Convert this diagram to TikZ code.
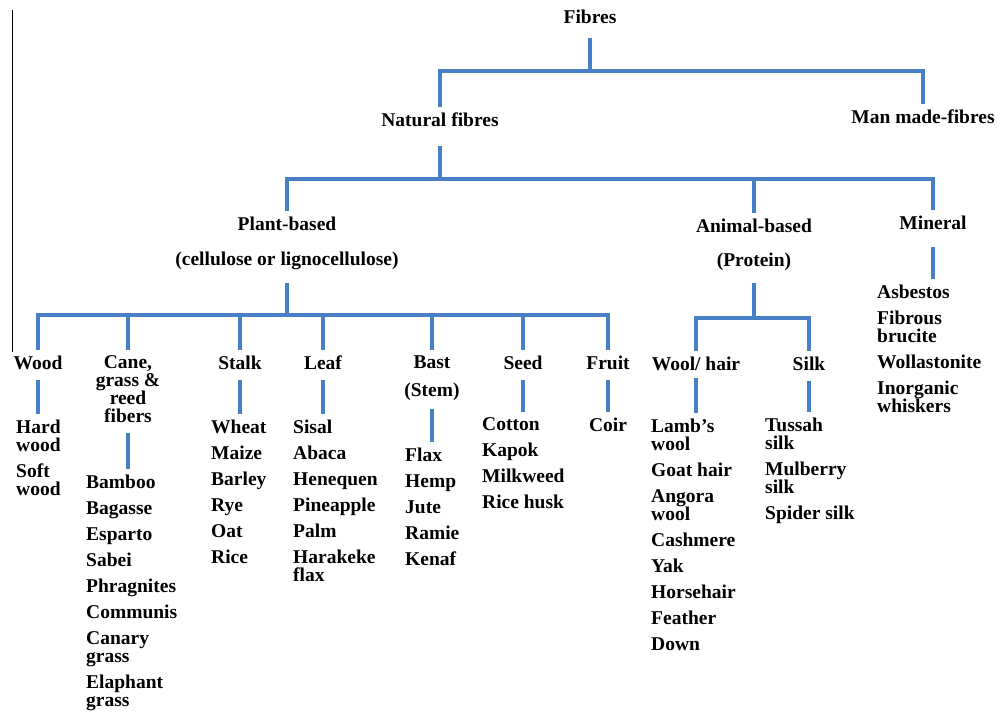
\documentclass[tikz,border=0pt]{standalone}
\usepackage{fontspec}
\setmainfont{Liberation Serif}
\definecolor{lineblue}{RGB}{72,128,200}
\tikzset{
  lbl/.style={font=\fontsize{19.5}{18}\selectfont\bfseries, inner sep=0pt, outer ysep=6pt, anchor=north, align=center},
  lst/.style={lbl, anchor=north west, align=left},
  bar/.style={draw=lineblue, line width=3.2pt},
  feed/.style={bar, shorten <=#1},
  feed/.default=4pt,
}
\begin{document}
\begin{tikzpicture}[x=1pt,y=-1pt]
\useasboundingbox (0,0) rectangle (998,712);
\draw[line width=1pt] (12,10) -- (12,352);
% top levels
\node[lbl] (fibres) at (590,4) {Fibres};
\node[lbl] (natural) at (440,107) {Natural fibres};
\node[lbl] (manmade) at (923,104) {Man made-fibres};
\coordinate (fibbar) at (590,71);
\draw[feed=8pt] (fibres.south) -- (fibbar);
\draw[bar] (natural.north) |- (fibbar) -| (manmade.north);
\node[lbl] (plant) at (287,211) {Plant-based\\[17pt](cellulose or lignocellulose)};
\node[lbl] (animal) at (754,213) {Animal-based\\[16pt](Protein)};
\node[lbl] (mineral) at (933,210) {Mineral};
\coordinate (natbar) at (440,179);
\draw[feed=13pt] (natural.south) -- (natbar);
\draw[bar] (plant.north) |- (natbar) -| (mineral.north);
\draw[bar] (natbar) -| (animal.north);
% plant-based groups
\node[lbl] (wood) at (38,350) {Wood};
\node[lbl] (cane) at (128,350) {Cane,\\grass \&\\reed\\fibers};
\node[lbl] (stalk) at (240,350) {Stalk};
\node[lbl] (leaf) at (323,350) {Leaf};
\node[lbl] (bast) at (432,350) {Bast\\[10pt](Stem)};
\node[lbl] (seed) at (523,350) {Seed};
\node[lbl] (fruit) at (608,350) {Fruit};
\coordinate (plantbar) at (287,315);
\draw[feed=7pt] (plant.south) -- (plantbar);
\draw[bar] (wood.north) |- (plantbar) -| (fruit.north);
\foreach \n in {cane,stalk,leaf,bast,seed}
  \draw[bar] (plantbar -| \n.north) -- (\n.north);
\node[lst] (woodlist) at (16,414) {Hard\\wood\\[8pt]Soft\\wood};
\node[lst] (canelist) at (86,469) {Bamboo\\[8pt]Bagasse\\[8pt]Esparto\\[8pt]Sabei\\[8pt]Phragnites\\[8pt]Communis\\[8pt]Canary\\grass\\[8pt]Elaphant\\grass};
\node[lst] (stalklist) at (211,414) {Wheat\\[8pt]Maize\\[8pt]Barley\\[8pt]Rye\\[8pt]Oat\\[8pt]Rice};
\node[lst] (leaflist) at (293,414) {Sisal\\[8pt]Abaca\\[8pt]Henequen\\[8pt]Pineapple\\[8pt]Palm\\[8pt]Harakeke\\flax};
\node[lst] (bastlist) at (405,442) {Flax\\[8pt]Hemp\\[8pt]Jute\\[8pt]Ramie\\[8pt]Kenaf};
\node[lst] (seedlist) at (482,412) {Cotton\\[8pt]Kapok\\[8pt]Milkweed\\[8pt]Rice husk};
\node[lbl] (coir) at (608,412) {Coir};
\draw[feed] (wood.south) -- (wood.south |- woodlist.north);
\draw[feed] (cane.south) -- (cane.south |- canelist.north);
\draw[feed] (stalk.south) -- (stalk.south |- stalklist.north);
\draw[feed] (leaf.south) -- (leaf.south |- leaflist.north);
\draw[feed=2pt] (bast.south) -- (bast.south |- bastlist.north);
\draw[feed] (seed.south) -- (seed.south |- seedlist.north);
\draw[feed] (fruit.south) -- (fruit.south |- coir.north);
% animal-based groups
\node[lbl] (wool) at (696,351) {Wool/ hair};
\node[lbl] (silk) at (809,351) {Silk};
\coordinate (animbar) at (754,318);
\draw[feed=6pt] (animal.south) -- (animbar);
\draw[bar] (wool.north) |- (animbar) -| (silk.north);
\node[lst] (woollist) at (651,413) {Lamb's\\wool\\[8pt]Goat hair\\[8pt]Angora\\wool\\[8pt]Cashmere\\[8pt]Yak\\[8pt]Horsehair\\[8pt]Feather\\[8pt]Down};
\node[lst] (silklist) at (765,412) {Tussah\\silk\\[8pt]Mulberry\\silk\\[8pt]Spider silk};
\draw[feed=1pt] (wool.south) -- (wool.south |- woollist.north);
\draw[feed] (silk.south) -- (silk.south |- silklist.north);
% mineral
\node[lst] (minlist) at (877,279) {Asbestos\\[8pt]Fibrous\\brucite\\[8pt]Wollastonite\\[8pt]Inorganic\\whiskers};
\draw[feed=11pt] (mineral.south) -- (mineral.south |- minlist.north);
\end{tikzpicture}
\end{document}
